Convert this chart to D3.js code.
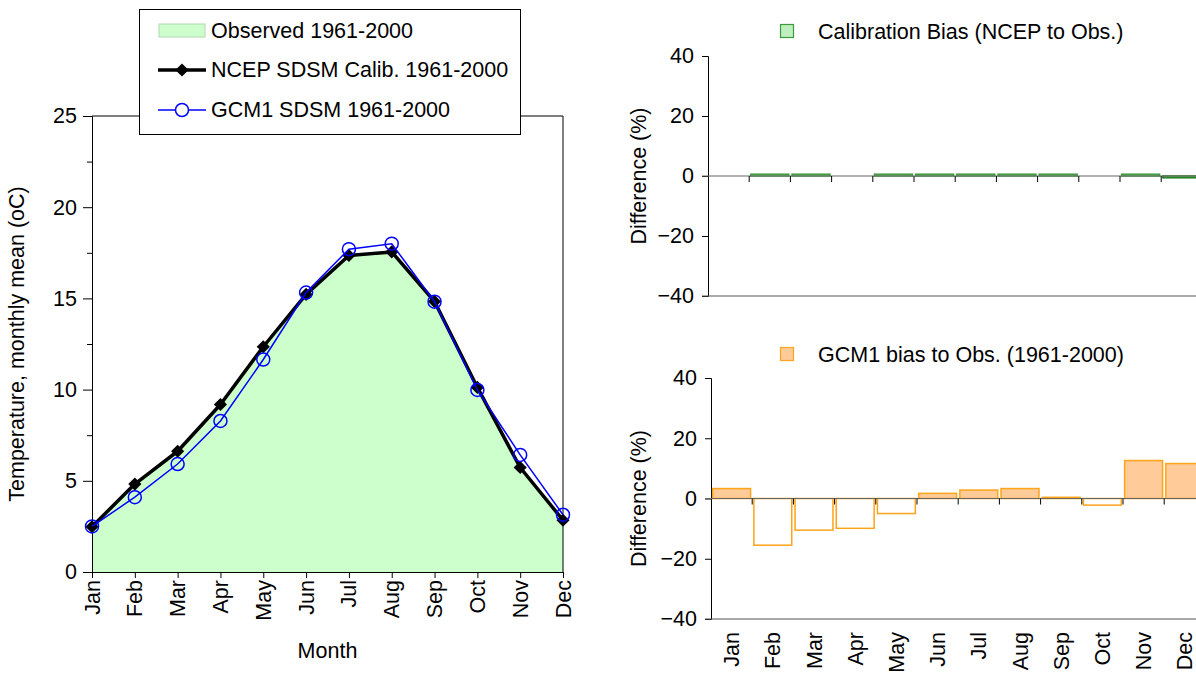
<!DOCTYPE html>
<html>
<head>
<meta charset="utf-8">
<script src="https://cdn.jsdelivr.net/npm/d3@7/dist/d3.min.js"></script>
<style>
  html, body { margin: 0; padding: 0; background: #fff; }
  svg { display: block; font-family: "Liberation Sans", Arial, sans-serif; }
</style>
</head>
<body>
<svg id="chart" width="1196" height="674"></svg>
<script>
// Monthly categories
const months = ["Jan","Feb","Mar","Apr","May","Jun","Jul","Aug","Sep","Oct","Nov","Dec"];

// Monthly mean temperature (°C)
const observed = [2.48, 4.80, 6.60, 9.18, 12.30, 15.17, 17.29, 17.49, 14.78, 10.12, 5.70, 2.86];
const ncepCalib = [2.48, 4.82, 6.62, 9.18, 12.35, 15.22, 17.35, 17.55, 14.83, 10.12, 5.73, 2.84];
const gcm1 = [2.50, 4.10, 5.92, 8.28, 11.65, 15.32, 17.70, 18.00, 14.82, 9.98, 6.42, 3.14];

// Biases relative to observed (%)
const calibBias = [0, 0.6, 0.6, 0, 0.6, 0.6, 0.6, 0.6, 0.6, 0, 0.6, -0.6];
const gcmBias = [3.3, -15.5, -10.5, -9.9, -5.0, 1.7, 2.8, 3.3, 0.4, -2.2, 12.6, 11.6];

// Tick values
const tempTicks = [0, 5, 10, 15, 20, 25];
const tempMinorTicks = [2.5, 7.5, 12.5, 17.5, 22.5];
const diffTicks = [-40, -20, 0, 20, 40];

const svg = d3.select("#chart");
const FONT = 21.5;

/* ---------------- Left panel: temperature ---------------- */
const x = d3.scalePoint().domain(months).range([92, 563]);
const y = d3.scaleLinear().domain([0, 25]).range([572, 116]);

const left = svg.append("g");

// Observed area
left.append("path")
  .datum(observed)
  .attr("fill", "#ccffcc")
  .attr("stroke", "none")
  .attr("d", d3.area().x((d, i) => x(months[i])).y0(y(0)).y1(d => y(d)));

// Plot frame (top and right)
left.append("line").attr("x1", 92).attr("x2", 563).attr("y1", y(25)).attr("y2", y(25))
  .attr("stroke", "#000").attr("stroke-width", 1);
left.append("line").attr("x1", 563).attr("x2", 563).attr("y1", y(25)).attr("y2", y(0))
  .attr("stroke", "#000").attr("stroke-width", 1);

// Y axis
const yAxis = left.append("g").attr("transform", "translate(92,0)")
  .call(d3.axisLeft(y).tickValues(tempTicks).tickSize(9).tickPadding(6).tickFormat(d3.format("d")));
left.append("g").attr("transform", "translate(92,0)")
  .call(d3.axisLeft(y).tickValues(tempMinorTicks).tickSize(5).tickFormat(""))
  .select(".domain").remove();

// X axis
const xAxis = left.append("g").attr("transform", `translate(0,${y(0)})`)
  .call(d3.axisBottom(x).tickSize(6).tickFormat(""));
left.selectAll(".xlab").data(months).join("text")
  .attr("class", "xlab")
  .attr("transform", d => `translate(${x(d)},580) rotate(-90)`)
  .attr("text-anchor", "end")
  .attr("dy", "0.35em")
  .attr("font-size", FONT)
  .text(d => d);

[yAxis, xAxis].forEach(g => {
  g.selectAll("text").attr("font-size", FONT).attr("fill", "#000").attr("font-family", "Liberation Sans, Arial, sans-serif");
  g.selectAll("line,path").attr("stroke", "#000");
});
left.selectAll("g line, g path.domain").attr("stroke", "#000");

// NCEP series
const lineGen = d3.line().x((d, i) => x(months[i])).y(d => y(d));
left.append("path").datum(ncepCalib)
  .attr("fill", "none").attr("stroke", "#000").attr("stroke-width", 3.5)
  .attr("stroke-linejoin", "round").attr("d", lineGen);
const diamond = d3.symbol().type(d3.symbolDiamond2).size(110);
left.selectAll(".ncep").data(ncepCalib).join("path")
  .attr("class", "ncep")
  .attr("transform", (d, i) => `translate(${x(months[i])},${y(d)})`)
  .attr("d", diamond())
  .attr("fill", "#000");

// GCM1 series
left.append("path").datum(gcm1)
  .attr("fill", "none").attr("stroke", "#0000ff").attr("stroke-width", 1.5)
  .attr("d", lineGen);
left.selectAll(".gcm").data(gcm1).join("circle")
  .attr("class", "gcm")
  .attr("cx", (d, i) => x(months[i])).attr("cy", d => y(d)).attr("r", 6.5)
  .attr("fill", "none").attr("stroke", "#0000ff").attr("stroke-width", 1.5);

// Axis titles
left.append("text")
  .attr("transform", `translate(24,${(y(0) + y(25)) / 2}) rotate(-90)`)
  .attr("text-anchor", "middle").attr("font-size", FONT)
  .text("Temperature, monthly mean (oC)");
left.append("text")
  .attr("x", (x("Jan") + x("Dec")) / 2).attr("y", 658)
  .attr("text-anchor", "middle").attr("font-size", FONT)
  .text("Month");

// Legend
const lg = svg.append("g");
lg.append("rect").attr("x", 139.5).attr("y", 9.5).attr("width", 381).attr("height", 125)
  .attr("fill", "#fff").attr("stroke", "#000").attr("stroke-width", 1);
lg.append("rect").attr("x", 159).attr("y", 24).attr("width", 46).attr("height", 13)
  .attr("fill", "#ccffcc").attr("stroke", "#b0d8b0").attr("stroke-width", 1);
lg.append("line").attr("x1", 158).attr("x2", 206).attr("y1", 70).attr("y2", 70)
  .attr("stroke", "#000").attr("stroke-width", 3.5);
lg.append("path").attr("transform", "translate(182,70)").attr("d", diamond()).attr("fill", "#000");
lg.append("line").attr("x1", 158).attr("x2", 206).attr("y1", 110).attr("y2", 110)
  .attr("stroke", "#0000ff").attr("stroke-width", 1.5);
lg.append("circle").attr("cx", 182).attr("cy", 110).attr("r", 6.5)
  .attr("fill", "#fff").attr("stroke", "#0000ff").attr("stroke-width", 1.5);
[["Observed 1961-2000", 30], ["NCEP SDSM Calib. 1961-2000", 69], ["GCM1 SDSM 1961-2000", 109]]
  .forEach(([t, cy]) => {
    lg.append("text").attr("x", 211).attr("y", cy).attr("dy", "0.35em")
      .attr("font-size", FONT).text(t);
  });

/* ---------------- Right panels: bias bars ---------------- */
function biasPanel(opts) {
  const g = svg.append("g");
  const xb = d3.scaleBand().domain(months).range([opts.x0, opts.x0 + 12 * 41.2]).paddingInner(0.08).paddingOuter(0.04);
  const yb = d3.scaleLinear().domain([-40, 40]).range([opts.yBottom, opts.yTop]);

  // Y axis
  const ya = g.append("g").attr("transform", `translate(${opts.x0},0)`)
    .call(d3.axisLeft(yb).tickValues(diffTicks).tickSize(6).tickPadding(8).tickFormat(d3.format("d")));
  ya.selectAll("text").attr("font-size", FONT).attr("fill", "#000").attr("font-family", "Liberation Sans, Arial, sans-serif");
  ya.selectAll("line,path").attr("stroke", "#000");

  // Bottom frame line
  g.append("line").attr("x1", opts.x0 - 6).attr("x2", 1196).attr("y1", yb(-40)).attr("y2", yb(-40))
    .attr("stroke", "#555").attr("stroke-width", 1.2);

  // Bars
  g.selectAll(".bar").data(opts.values).join("rect")
    .attr("class", "bar")
    .attr("x", (d, i) => xb(months[i]))
    .attr("width", xb.bandwidth())
    .attr("y", d => yb(Math.max(0, d)))
    .attr("height", d => Math.abs(yb(d) - yb(0)))
    .attr("fill", d => d >= 0 ? opts.fill : "#fff")
    .attr("stroke", d => d >= 0 ? opts.stroke : opts.negStroke)
    .attr("stroke-width", 1.5);

  // Zero line with ticks at category boundaries
  g.append("line").attr("x1", opts.x0 - 6).attr("x2", 1196).attr("y1", yb(0)).attr("y2", yb(0))
    .attr("stroke", "#666").attr("stroke-width", 1.2);
  g.selectAll(".ztick").data(months.slice(1)).join("line")
    .attr("class", "ztick")
    .attr("x1", d => xb(d) - xb.step() * xb.paddingInner() / 2)
    .attr("x2", d => xb(d) - xb.step() * xb.paddingInner() / 2)
    .attr("y1", yb(0)).attr("y2", yb(0) + 6)
    .attr("stroke", "#000").attr("stroke-width", 1);

  // Axis title
  g.append("text")
    .attr("transform", `translate(646,${yb(0)}) rotate(-90)`)
    .attr("text-anchor", "middle").attr("font-size", FONT)
    .text("Difference (%)");

  // Series key
  g.append("rect").attr("x", opts.keyX).attr("y", opts.keyY - 6.5).attr("width", 13).attr("height", 13)
    .attr("fill", opts.fill).attr("stroke", opts.stroke).attr("stroke-width", 1.2);
  g.append("text").attr("x", 818).attr("y", opts.keyY).attr("dy", "0.35em")
    .attr("font-size", FONT).text(opts.title);

  if (opts.labels) {
    g.selectAll(".mlab").data(months).join("text")
      .attr("class", "mlab")
      .attr("transform", d => `translate(${xb(d) + xb.bandwidth() / 2},632) rotate(-90)`)
      .attr("text-anchor", "end").attr("dy", "0.35em")
      .attr("font-size", FONT)
      .text(d => d);
  }
}

biasPanel({
  x0: 708, yTop: 56, yBottom: 296, values: calibBias,
  fill: "#bfeebf", stroke: "#3c9a3c", negStroke: "#1a7f1a",
  keyX: 780.5, keyY: 31, title: "Calibration Bias (NCEP to Obs.)", labels: false
});
biasPanel({
  x0: 711, yTop: 378, yBottom: 619, values: gcmBias,
  fill: "#ffcc99", stroke: "#ffa31a", negStroke: "#ffa31a",
  keyX: 780.5, keyY: 354, title: "GCM1 bias to Obs. (1961-2000)", labels: true
});
</script>
</body>
</html>
